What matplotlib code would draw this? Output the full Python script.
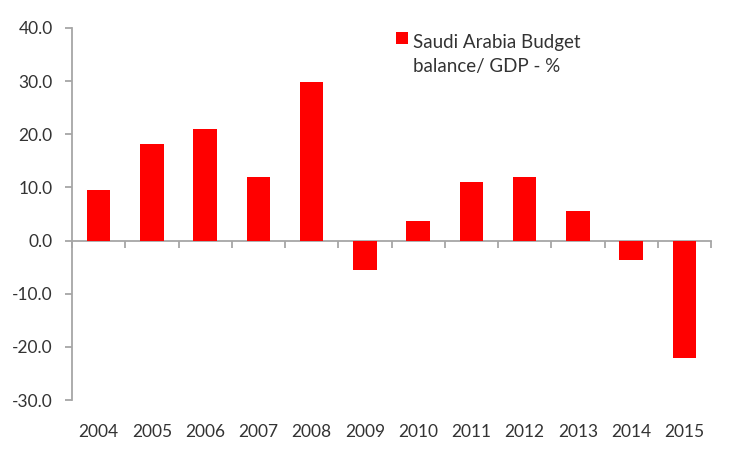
import numpy as np
import matplotlib.pyplot as plt
from matplotlib.patches import Rectangle
from matplotlib.container import BarContainer
from matplotlib.legend_handler import HandlerPatch, update_from_first_child

years = ['2004', '2005', '2006', '2007', '2008', '2009', '2010',
         '2011', '2012', '2013', '2014', '2015']
balance = [9.5, 18.1, 20.9, 11.9, 29.8, -5.6, 3.6, 11.1, 11.9, 5.6, -3.6, -22.1]
series_name = 'Saudi Arabia Budget\nbalance/ GDP - %'
yticks = [-30, -20, -10, 0, 10, 20, 30, 40]

plt.rcParams['font.family'] = ['Lato', 'DejaVu Sans']
txt = '#333333'
axis_col = '#a6a6a6'

fig = plt.figure(figsize=(7.54, 4.5), dpi=100)
ax = fig.add_axes([0.0955, 0.111, 0.8475, 0.827])

x = np.arange(len(years))
bars = ax.bar(x, balance, width=0.44, color='#ff0000', label=series_name, zorder=3)

ax.set_xlim(-0.5, len(years) - 0.5)
ax.set_ylim(-30, 40)
ax.set_yticks(yticks)
ax.set_yticklabels(['%.1f' % v for v in yticks], color=txt, fontsize=12.5)

# x axis line at zero with tick marks between categories
for s in ['top', 'right']:
    ax.spines[s].set_visible(False)
ax.spines['bottom'].set_position(('data', 0))
ax.spines['bottom'].set_color(axis_col)
ax.spines['left'].set_color(axis_col)
ax.spines['bottom'].set_linewidth(1.3)
ax.spines['left'].set_linewidth(1.3)
ax.set_xticks(np.arange(-0.5, len(years), 1.0))
ax.set_xticklabels([])
ax.tick_params(axis='x', direction='out', length=5, color=axis_col, width=1.3)
ax.tick_params(axis='y', direction='out', length=5, color=axis_col, width=1.3, pad=9)

# year labels below the plot
for xi, yr in zip(x, years):
    ax.text(xi, -0.086, yr, transform=ax.get_xaxis_transform(),
            ha='center', va='center', fontsize=12.5, color=txt)


# square marker next to the first line of the label
def top_square(legend, orig_handle, xdescent, ydescent, width, height, fontsize):
    return Rectangle((-xdescent, -ydescent + height - width + 4), width, width)


leg = ax.legend(loc='upper left', bbox_to_anchor=(0.48, 1.03), frameon=False,
                fontsize=13.5, handlelength=0.65, handleheight=2.6,
                handletextpad=0.3, labelcolor=txt,
                handler_map={BarContainer: HandlerPatch(patch_func=top_square,
                                                        update_func=update_from_first_child)})
for t in leg.get_texts():
    t.set_linespacing(1.5)

fig.savefig('out.png', dpi=100)
